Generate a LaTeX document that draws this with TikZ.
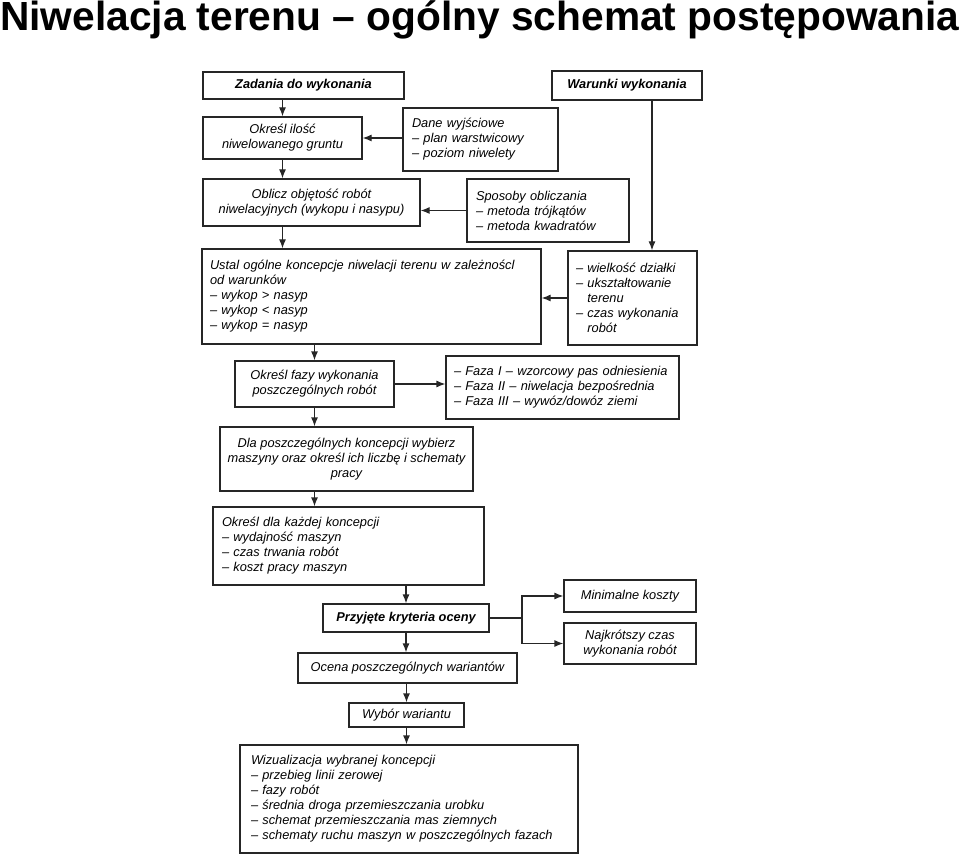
\documentclass[tikz,border=0pt]{standalone}
\usepackage{fontspec}
\setmainfont{Liberation Sans}
\usetikzlibrary{arrows.meta, positioning}

\begin{document}
\begin{tikzpicture}[
    x=1pt, y=-1pt,
    block/.style={
        rectangle,
        draw=black!85,
        line width=1.2pt,
        align=center,
        inner sep=0pt,
        font=\fontsize{12.8}{15}\selectfont\itshape
    },
    boldblock/.style={
        block,
        font=\fontsize{12.8}{15}\selectfont\bfseries\itshape
    },
    listblock/.style={
        block,
        align=left
    },
    heading/.style={
        inner sep=0pt,
        font=\fontsize{40.7}{48}\selectfont\bfseries
    },
    arrow/.style={-{Latex[length=9pt, width=7pt]}, line width=1.2pt, draw=black!85}
]
\useasboundingbox (0,0) rectangle (960,858);

\node[heading, anchor=base west] (title) at (0,31) {Niwelacja terenu -- ogólny schemat postępowania};

% left column
\node[boldblock, minimum width=201pt, minimum height=27pt] (zadania) at (303.5,85.5) {Zadania do wykonania};
\node[block, minimum width=159pt, minimum height=42pt] (ilosc) at (282.5,138) {Określ ilość\\niwelowanego gruntu};
\node[block, minimum width=217pt, minimum height=47pt] (oblicz) at (311.5,202.5) {Oblicz objętość robót\\niwelacyjnych (wykopu i nasypu)};
\node[listblock, minimum width=339pt, minimum height=95pt, text width=323pt] (ustal) at (371.5,296.5) {Ustal ogólne koncepcje niwelacji terenu w zależnoścl\\od warunków\\-- wykop > nasyp\\-- wykop < nasyp\\-- wykop = nasyp};
\node[block, minimum width=159pt, minimum height=46pt] (fazy) at (314.5,384) {Określ fazy wykonania\\poszczególnych robót};
\node[block, minimum width=253pt, minimum height=64pt] (dla) at (346.5,459) {Dla poszczególnych koncepcji wybierz\\maszyny oraz określ ich liczbę i schematy\\pracy};
\node[listblock, minimum width=271pt, minimum height=78pt, text width=253pt] (kazdej) at (348.5,546) {Określ dla każdej koncepcji\\-- wydajność maszyn\\-- czas trwania robót\\-- koszt pracy maszyn};
\node[boldblock, minimum width=166pt, minimum height=28pt] (kryteria) at (406,618) {Przyjęte kryteria oceny};
\node[block, minimum width=219pt, minimum height=30pt] (ocena) at (407.5,668) {Ocena poszczególnych wariantów};
\node[block, minimum width=115pt, minimum height=24pt] (wybor) at (406.5,715) {Wybór wariantu};
\node[listblock, minimum width=338pt, minimum height=108pt, text width=316pt] (wizualizacja) at (409,799) {Wizualizacja wybranej koncepcji\\-- przebieg linii zerowej\\-- fazy robót\\-- średnia droga przemieszczania urobku\\-- schemat przemieszczania mas ziemnych\\-- schematy ruchu maszyn w poszczególnych fazach};

% right column
\node[boldblock, minimum width=150pt, minimum height=29pt] (warunki) at (627,85.5) {Warunki wykonania};
\node[listblock, minimum width=155pt, minimum height=63pt, text width=137pt] (dane) at (480.5,139.5) {Dane wyjściowe\\-- plan warstwicowy\\-- poziom niwelety};
\node[listblock, minimum width=162pt, minimum height=63pt, text width=144pt] (sposoby) at (548,210.5) {Sposoby obliczania\\-- metoda trójkątów\\-- metoda kwadratów};
\node[listblock, minimum width=129pt, minimum height=94pt, text width=113pt] (wielkosc) at (632.5,298) {-- wielkość działki\\-- ukształtowanie\\\phantom{-- }terenu\\-- czas wykonania\\\phantom{-- }robót};
\node[listblock, minimum width=233pt, minimum height=63pt, text width=217pt] (faza) at (562.5,387.5) {-- Faza I -- wzorcowy pas odniesienia\\-- Faza II -- niwelacja bezpośrednia\\-- Faza III -- wywóz/dowóz ziemi};
\node[block, minimum width=132pt, minimum height=32pt] (minimalne) at (630,596) {Minimalne koszty};
\node[block, minimum width=132pt, minimum height=41pt] (najkrotszy) at (630,643.5) {Najkrótszy czas\\wykonania robót};
\coordinate (split) at (522,618);

% main flow
\draw[arrow] (zadania.south -| ilosc) -- (ilosc.north);
\draw[arrow] (ilosc.south) -- (ilosc |- oblicz.north);
\draw[arrow] (oblicz.south -| ilosc) -- (ilosc |- ustal.north);
\draw[arrow] (ustal.south -| fazy) -- (fazy.north);
\draw[arrow] (fazy.south) -- (fazy |- dla.north);
\draw[arrow] (dla.south -| fazy) -- (fazy |- kazdej.north);
\draw[arrow] (kazdej.south -| kryteria) -- (kryteria.north);
\draw[arrow] (kryteria.south) -- (kryteria |- ocena.north);
\draw[arrow] (ocena.south -| wybor) -- (wybor.north);
\draw[arrow] (wybor.south) -- (wybor |- wizualizacja.north);

% inputs from the right
\draw[arrow] (dane.west |- ilosc) -- (ilosc.east);
\draw[arrow] (sposoby.west) -- (sposoby.west -| oblicz.east);
\draw[arrow] ([xshift=25pt]warunki.south) -- ([xshift=25pt]warunki.south |- wielkosc.north);
\draw[arrow] (wielkosc.west) -- (wielkosc.west -| ustal.east);
\draw[arrow] (fazy.east) -- (fazy.east -| faza.west);

% criteria
\draw[line width=1.2pt, black!85] (kryteria.east) -- (split);
\draw[arrow] (split) |- (minimalne.west);
\draw[arrow] (split) |- (najkrotszy.west);
\end{tikzpicture}
\end{document}
